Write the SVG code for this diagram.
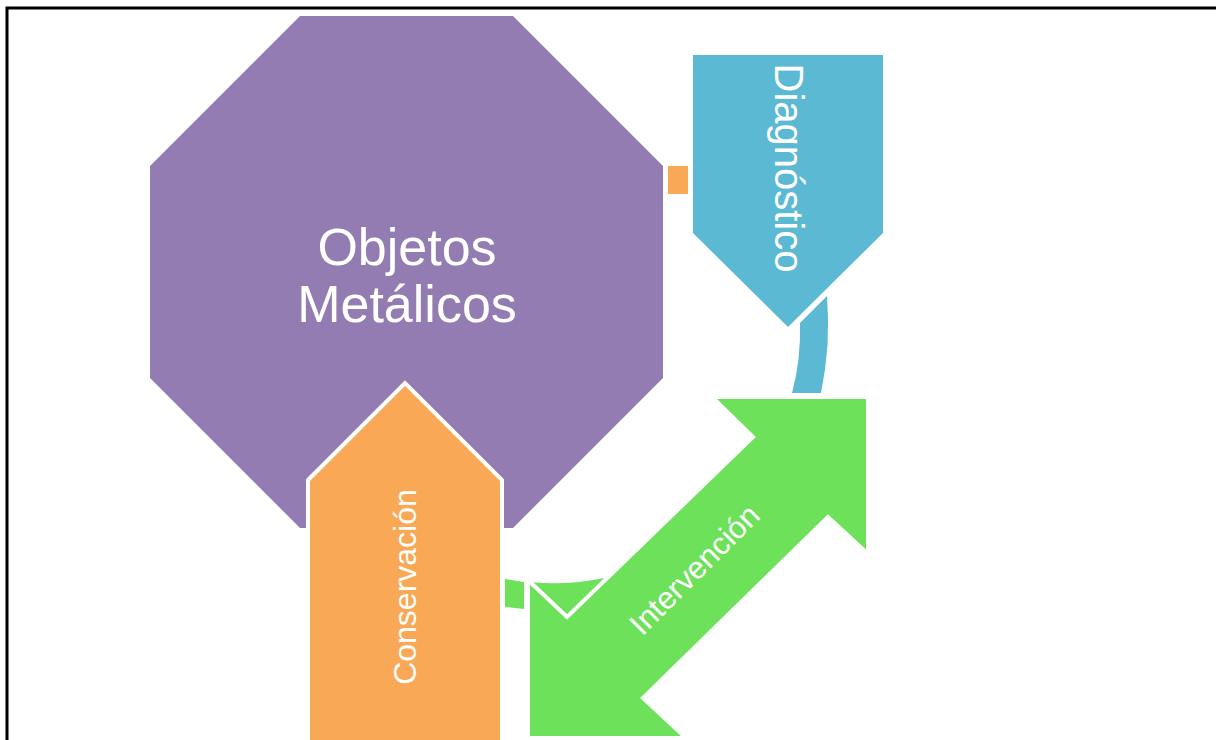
<svg xmlns="http://www.w3.org/2000/svg" width="1216" height="740" viewBox="0 0 1216 740">
<style>
.lbl{font-family:"Liberation Sans",Arial,sans-serif;fill:#fff;text-anchor:middle}
.edge{stroke:#fff;stroke-width:4;stroke-linejoin:miter}
</style>
<rect x="0" y="0" width="1216" height="740" fill="#fff"/>
<rect x="7" y="8" width="1240" height="780" fill="none" stroke="#000" stroke-width="3"/>
<g id="connectors">
<rect x="668" y="166" width="20" height="28" fill="#F9A855"/>
<path d="M800,323 L827,296 Q831,345 821,393 L792,393 Q801,360 800,323 Z" fill="#5CB9D3"/>
<path d="M505,579 L524,582 L524,609 L505,607 Z" fill="#6EE15A"/>
<path d="M530,582 Q566,586 604,578 L567,622 L530,586 Z" fill="#6EE15A"/>
</g>
<g id="objetos">
<polygon points="300,16 513,16 663,166 663,378 513,528 300,528 150,378 150,166" fill="#937CB1"/>
<text class="lbl" font-size="52" x="407" y="265">Objetos</text>
<text class="lbl" font-size="52" x="407" y="322">Metálicos</text>
</g>
<g id="diagnostico">
<polygon points="693,55 883,55 883,233 788,327 693,233" fill="#5CB9D3"/>
<text class="lbl" font-size="40" x="0" y="0" transform="translate(775,168) rotate(90)">Diagnóstico</text>
</g>
<g id="intervencion">
<polygon class="edge" points="712,397 868,397 868,554 828,517 643,698 686,738 528,738 528,580 567,617 753,437" fill="#6EE15A"/>
<text class="lbl" font-size="31" x="0" y="0" transform="translate(702,577) rotate(-45)">Intervención</text>
</g>
<g id="conservacion">
<polygon class="edge" points="308,480 405,383 502,480 502,760 308,760" fill="#F9A855"/>
<text class="lbl" font-size="32" x="0" y="0" transform="translate(416,587) rotate(-90)">Conservación</text>
</g>
</svg>
